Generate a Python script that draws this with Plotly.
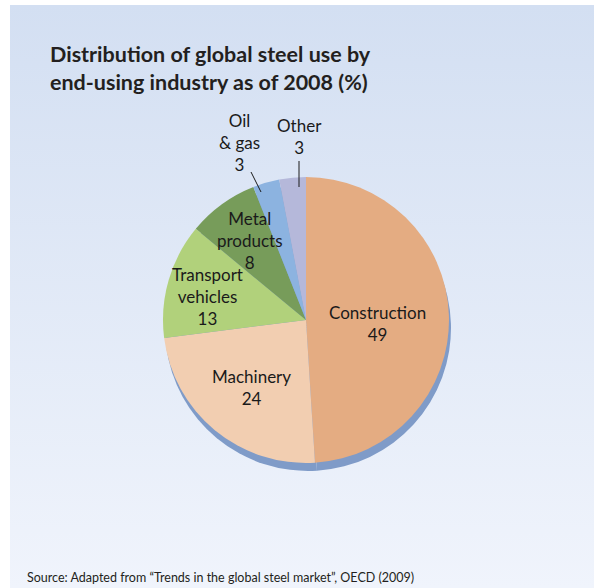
import plotly.graph_objects as go

# data
industries = ["Construction", "Machinery", "Transport<br>vehicles", "Metal<br>products", "Oil<br>& gas", "Other"]
shares = [49, 24, 13, 8, 3, 3]
slice_colors = ["#e4ac82", "#f2ceb1", "#b1d17b", "#779c5a", "#8cb3e0", "#b5b8da"]

W, H = 595, 588
cx, cy, r = 306, 320, 143
FONT = "Lato"

fig = go.Figure()

# gradient background panel (pixel coords on hidden axes)
fig.add_trace(go.Scatter(
    x=[10, 594, 594, 10, 10], y=[5, 5, 588, 588, 5],
    mode="lines", line=dict(width=0), fill="toself",
    fillgradient=dict(type="vertical",
                      colorscale=[[0, "#f0f4fc"], [1, "#d3dff2"]]),
    hoverinfo="skip", showlegend=False))

def dom(dx, dy):
    return dict(x=[(cx + dx - r) / W, (cx + dx + r) / W],
                y=[(H - (cy + dy + r)) / H, (H - (cy + dy - r)) / H])

# shadow / thickness of the pie
fig.add_trace(go.Pie(
    values=shares, labels=industries, sort=False, direction="clockwise",
    marker=dict(colors=["#7f9bc8"] * len(shares), line=dict(width=0)),
    textinfo="none", hoverinfo="skip", showlegend=False, domain=dom(2, 8)))

fig.add_trace(go.Pie(
    values=shares, labels=industries, sort=False, direction="clockwise",
    marker=dict(colors=slice_colors, line=dict(width=0)),
    textinfo="none", showlegend=False, domain=dom(0, 0)))

# label positions (pixels)
label_pos = [(377, 323), (251, 387), (207, 296), (250, 240), (239, 142), (299, 136)]
for name, val, (lx, ly) in zip(industries, shares, label_pos):
    fig.add_annotation(x=lx, y=ly, xref="x", yref="y", showarrow=False,
                       text=f"{name}<br>{val}", align="center",
                       font=dict(family=FONT, size=17, color="#1a1a1a"))

# leader lines for the small slices
fig.add_shape(type="line", x0=251, y0=172, x1=261, y1=192, xref="x", yref="y",
              line=dict(color="#1a1a1a", width=1))
fig.add_shape(type="line", x0=299, y0=161, x1=299, y1=187, xref="x", yref="y",
              line=dict(color="#1a1a1a", width=1))

fig.add_annotation(x=48, y=68, xref="x", yref="y", xanchor="left", yanchor="middle",
                   showarrow=False, align="left",
                   text="<b>Distribution of global steel use by<br>end-using industry as of 2008 (%)</b>",
                   font=dict(family=FONT, size=21.5, color="#231f20"))
fig.add_annotation(x=25, y=577, xref="x", yref="y", xanchor="left", yanchor="middle",
                   showarrow=False,
                   text="Source: Adapted from \u201cTrends in the global steel market\u201d, OECD (2009)",
                   font=dict(family=FONT, size=12.5, color="#231f20"))

fig.update_layout(
    width=W, height=H, margin=dict(l=0, r=0, t=0, b=0),
    paper_bgcolor="white", plot_bgcolor="rgba(0,0,0,0)",
    xaxis=dict(range=[0, W], visible=False, fixedrange=True),
    yaxis=dict(range=[H, 0], visible=False, fixedrange=True),
)

# drop the default 8px body margin so the page lines up with the window
fig.write_html("out.html", config={"displayModeBar": False},
               post_script="document.body.style.margin='0';")
